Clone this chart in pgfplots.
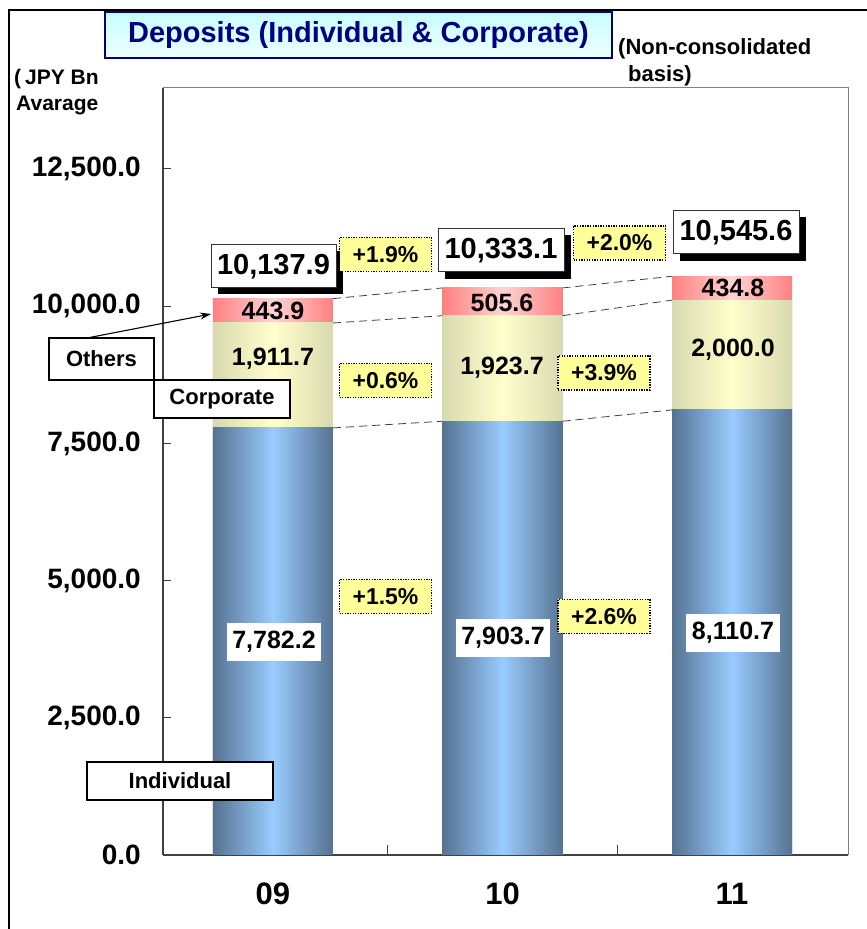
\documentclass[border=0pt]{standalone}
\usepackage{pgfplots}
\pgfplotsset{compat=1.18}
\usepackage{fontspec}
\setmainfont{Liberation Sans}
\usetikzlibrary{arrows.meta}
\definecolor{blueE}{RGB}{86,114,145}
\definecolor{blueC}{RGB}{153,204,255}
\definecolor{yelE}{RGB}{217,217,176}
\definecolor{yelC}{RGB}{255,255,204}
\definecolor{pinkE}{RGB}{255,128,128}
\definecolor{pinkC}{RGB}{255,212,212}
\definecolor{note}{RGB}{255,255,153}
\definecolor{navyT}{RGB}{0,0,128}
\definecolor{titleTop}{RGB}{200,255,255}
\definecolor{titleBot}{RGB}{236,255,255}
\newcommand\fs[1]{\fontsize{#1}{#1}\selectfont\bfseries}

\begin{document}
\begin{tikzpicture}
\path[use as bounding box] (0,0) rectangle (867pt,929pt);
\begin{axis}[
  at={(163pt,74pt)}, anchor=south west,
  scale only axis, width=685pt, height=767pt,
  xmin=-0.479, xmax=2.505, ymin=0, ymax=13976,
  axis x line*=bottom, axis y line*=left,
  axis line style={-},
  x axis line style={draw=black!75, line width=1.6pt},
  y axis line style={draw=black!75, line width=1.2pt},
  clip=false,
  tick align=inside,
  major tick length=8pt, minor tick length=10pt,
  ytick={0,2500,5000,7500,10000,12500},
  scaled y ticks=false,
  yticklabel={\pgfmathprintnumber{\tick}},
  yticklabel style={/pgf/number format/.cd, fixed, fixed zerofill, precision=1, 1000 sep={,}, assume math mode=true, /tikz/.cd,
    font=\fs{28}, anchor=east, inner sep=0pt, xshift=-22pt},
  ytick style={draw=black!75, line width=1pt},
  xtick={0,1,2}, xticklabels={09,10,11},
  minor xtick={0.5,1.5},
  major x tick style={draw=none},
  minor x tick style={draw=black!75, line width=1pt},
  xticklabel style={font=\fs{31}, anchor=north, inner sep=0pt, yshift=-28pt},
  pinkbar/.style={ybar, bar width=0.523, bar shift=0pt, draw=none, left color=pinkE, right color=pinkE, middle color=pinkC},
  yelbar/.style={ybar, bar width=0.523, bar shift=0pt, draw=none, left color=yelE, right color=yelE, middle color=yelC},
  bluebar/.style={ybar, bar width=0.523, bar shift=0pt, draw=none, left color=blueE, right color=blueE, middle color=blueC},
  dl/.style={black!75, line width=0.8pt, dash pattern=on 8pt off 5pt},
]
% totals (Individual + Corporate + Others)
\addplot[pinkbar] coordinates {(0,10137.8)};
\addplot[pinkbar] coordinates {(1,10333.0)};
\addplot[pinkbar] coordinates {(2,10545.5)};
% Individual + Corporate
\addplot[yelbar] coordinates {(0,9693.9)};
\addplot[yelbar] coordinates {(1,9827.4)};
\addplot[yelbar] coordinates {(2,10110.7)};
% Individual
\addplot[bluebar] coordinates {(0,7782.2)};
\addplot[bluebar] coordinates {(1,7903.7)};
\addplot[bluebar] coordinates {(2,8110.7)};
% dashed connectors
\addplot[dl] coordinates {(0.2615,7782.2) (0.7385,7903.7)};
\addplot[dl] coordinates {(1.2615,7903.7) (1.7385,8110.7)};
\addplot[dl] coordinates {(0.2615,9693.9) (0.7385,9827.4)};
\addplot[dl] coordinates {(1.2615,9827.4) (1.7385,10110.7)};
\addplot[dl] coordinates {(0.2615,10137.8) (0.7385,10333.0)};
\addplot[dl] coordinates {(1.2615,10333.0) (1.7385,10545.5)};
\draw[black!50, line width=1pt] (rel axis cs:0,1) -- (rel axis cs:1,1) -- (rel axis cs:1,0);
\end{axis}

\begin{scope}[yshift=929pt, x=1pt, y=-1pt]
% outer frame
\draw[black, line width=2pt] (9,935) -- (9,10) -- (875,10);
% title
\node[draw=navyT, line width=1.5pt, top color=titleTop, bottom color=titleBot,
  minimum width=507pt, minimum height=46pt, inner sep=0pt, text=navyT] at (358.5,35) {\fs{29}Deposits (Individual \& Corporate)};
\node[anchor=base west, inner sep=0pt] at (618,55) {\fs{22}(Non-consolidated};
\node[anchor=base west, inner sep=0pt] at (628,82) {\fs{22}basis)};
\node[anchor=base west, inner sep=0pt] at (14,85) {\fs{21}(\hspace{4pt}JPY Bn};
\node[anchor=base west, inner sep=0pt] at (16,111) {\fs{21}Avarage};
% totals with shadow
\fill[black] (218,251) rectangle (343,294);
\node[draw=black!80, line width=1pt, fill=white, minimum width=125pt, minimum height=43pt, inner sep=0pt] at (273.5,266.5) {\fs{29}10,137.9};
\fill[black] (445,235) rectangle (571,279);
\node[draw=black!80, line width=1pt, fill=white, minimum width=126pt, minimum height=43pt, inner sep=0pt] at (501,250.5) {\fs{29}10,333.1};
\fill[black] (680,217) rectangle (806,261);
\node[draw=black!80, line width=1pt, fill=white, minimum width=126pt, minimum height=43pt, inner sep=0pt] at (736,232.5) {\fs{29}10,545.6};
% others values
\node at (273,311) {\fs{25}443.9};
\node at (502,303) {\fs{25}505.6};
\node at (733,288) {\fs{25}434.8};
% corporate values
\node at (273,359) {\fs{25}1,911.7};
\node at (502,368) {\fs{25}1,923.7};
\node at (733,350) {\fs{25}2,000.0};
% individual values
\node[fill=white, minimum width=94pt, minimum height=38pt, inner sep=0pt] at (274,642) {\fs{25}7,782.2};
\node[fill=white, minimum width=94pt, minimum height=38pt, inner sep=0pt] at (503,638) {\fs{25}7,903.7};
\node[fill=white, minimum width=94pt, minimum height=38pt, inner sep=0pt] at (733,633) {\fs{25}8,110.7};
% growth notes
\tikzset{gr/.style={draw=black, line width=1.3pt, dash pattern=on 1.3pt off 1.3pt, fill=note, minimum width=92pt, minimum height=34pt, inner sep=0pt}}
\node[gr] at (385.5,254.5) {\fs{23}+1.9\%};
\node[gr] at (385.5,380.5) {\fs{23}+0.6\%};
\node[gr] at (385.5,596.5) {\fs{23}+1.5\%};
\node[gr] at (619.5,243) {\fs{23}+2.0\%};
\node[gr] at (604,373) {\fs{23}+3.9\%};
\node[gr] at (604,616.5) {\fs{23}+2.6\%};
% callouts
\draw[-{Stealth[length=11pt,width=7pt]}, line width=1.1pt] (87,338) -- (211,314);
\node[draw, line width=1.8pt, fill=white, minimum width=105pt, minimum height=42pt, inner sep=0pt] at (101.5,359) {\fs{22}Others};
\node[draw, line width=1.8pt, fill=white, minimum width=136pt, minimum height=38pt, inner sep=0pt] at (222,399) {\fs{22}Corporate};
\node[draw, line width=1.8pt, fill=white, minimum width=186pt, minimum height=38pt, inner sep=0pt] at (180,781) {\fs{22}Individual};
\end{scope}
\end{tikzpicture}
\end{document}
